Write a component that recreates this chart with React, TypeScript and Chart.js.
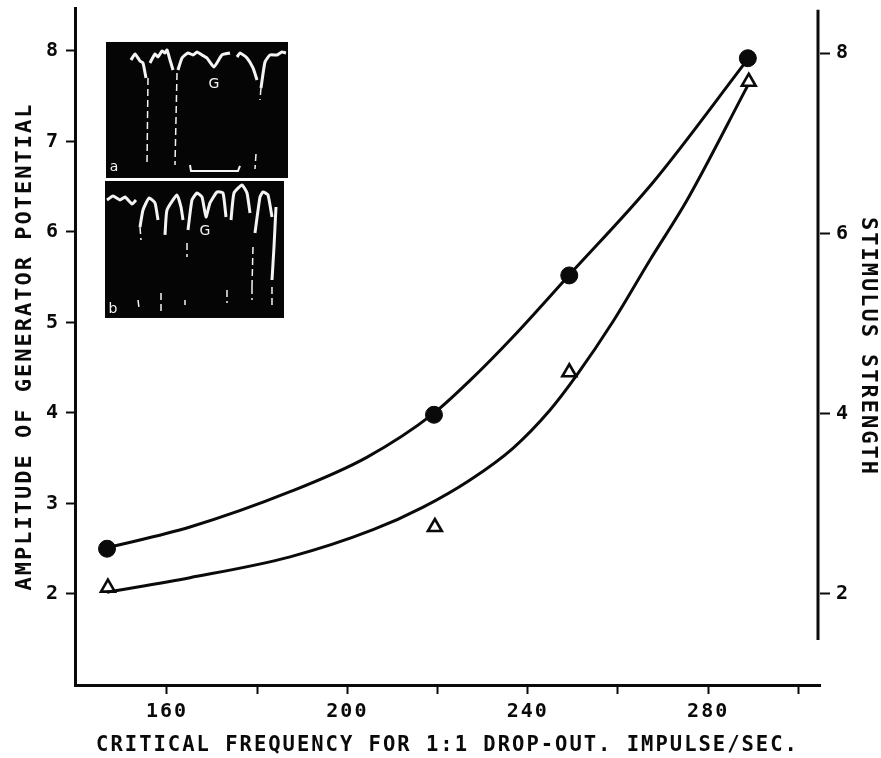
import React, { useEffect, useRef } from "react";
import { Chart, registerables } from "chart.js";

Chart.register(...registerables);

const FONT = '"DejaVu Sans Mono", monospace';
const INK = "#0a0a0a";

const xTicks = [160, 180, 200, 220, 240, 260, 280, 300];
const xLabelled = [160, 200, 240, 280];
const leftTicks = [2, 3, 4, 5, 6, 7, 8];
const rightTicks = [2, 4, 6, 8];

const xLabel = "CRITICAL FREQUENCY FOR 1:1 DROP-OUT. IMPULSE/SEC.";
const leftLabel = "AMPLITUDE OF GENERATOR POTENTIAL";
const rightLabel = "STIMULUS STRENGTH";

const circleX = [146.7, 219.2, 249.2, 288.8];
const circleY = [2.5, 3.98, 5.52, 7.92];
const triangleX = [146.9, 219.4, 249.2, 289];
const triangleY = [2.07, 2.74, 4.45, 7.66];

const upperCurveX = [146.7, 165.1, 187.3, 204.3, 219, 227.2, 236.7, 249.1, 267.8, 288.8];
const upperCurveY = [2.51, 2.74, 3.13, 3.51, 3.99, 4.36, 4.84, 5.52, 6.55, 7.91];
const lowerCurveX = [146.7, 165.1, 187.3, 205.7, 216.8, 227.2, 236.7, 244.9, 250.9, 258.9, 267.1, 275.3, 288.8];
const lowerCurveY = [2.02, 2.18, 2.41, 2.71, 2.96, 3.26, 3.61, 4.03, 4.42, 5.01, 5.69, 6.35, 7.62];

// Inset photographs in image units and mapped to the axes below.
const photoA = [106, 42, 288, 178];
const photoB = [105, 181, 284, 318];
const traceThick: number[][] = [
  [131, 60, 135, 54, 140, 61, 143, 63, 146, 78],
  [150, 63, 155, 54, 158, 57, 162, 51, 165, 53, 167, 50, 170, 60, 173, 70],
  [178, 70, 182, 58, 188, 53, 193, 55, 197, 52, 202, 55, 207, 58, 214, 67, 222, 55, 230, 53],
  [237, 57, 240, 53, 247, 58, 253, 68, 257, 80],
  [261, 88, 265, 62, 270, 55, 277, 55, 282, 52, 286, 53],
  [107, 200, 113, 196, 120, 200, 125, 197, 132, 204, 136, 200],
  [140, 227, 143, 210, 149, 198, 155, 203, 158, 220],
  [165, 235, 167, 210, 177, 195, 181, 207, 183, 220],
  [188, 230, 192, 200, 197, 193, 202, 197, 206, 217, 210, 203, 217, 192, 223, 193, 226, 217],
  [231, 220, 234, 193, 242, 185, 247, 193, 250, 213],
  [255, 233, 260, 197, 263, 192, 268, 195, 272, 217],
  [276, 207, 274, 247, 272, 280],
];
const traceThin: number[][] = [
  [148, 78, 147, 164],
  [177, 73, 175, 165],
  [256, 154, 255, 169],
  [261, 88, 260, 100],
  [140, 227, 141, 240],
  [138, 300, 139, 308],
  [161, 293, 161, 312],
  [185, 300, 185, 305],
  [187, 243, 187, 257],
  [227, 290, 227, 303],
  [252, 287, 252, 300],
  [253, 247, 252, 287],
  [272, 287, 272, 305],
];
const bracket = [190, 165, 191, 171, 238, 171, 240, 166];
const photoNotes = [
  { text: "G", x: 214, y: 84 },
  { text: "a", x: 114, y: 167 },
  { text: "G", x: 205, y: 231 },
  { text: "b", x: 113, y: 309 },
];

const toX = (px: number) => 160 + (px - 167) / 4.51;
const toY = (py: number) => 2 + (594 - py) / 90.5;

const pairs = (a: number[]) => {
  const out: { x: number; y: number }[] = [];
  for (let i = 0; i < a.length; i += 2) out.push({ x: toX(a[i]), y: toY(a[i + 1]) });
  return out;
};
const zip = (xs: number[], ys: number[]) => xs.map((x, i) => ({ x, y: ys[i] }));

const fitBox = (s: any, size: { width?: number; height?: number }) => {
  if (size.width) s.width = size.width;
  if (size.height) s.height = size.height;
  s.paddingTop = 0;
  s.paddingBottom = 0;
  s.paddingLeft = 0;
  s.paddingRight = 0;
};

const photoPlugin = {
  id: "photo",
  beforeDraw(chart: any) {
    chart.ctx.letterSpacing = "2px";
  },
  beforeDatasetsDraw(chart: any) {
    const { ctx, scales } = chart;
    ctx.save();
    ctx.fillStyle = "#050505";
    for (const r of [photoA, photoB]) {
      const x0 = scales.x.getPixelForValue(toX(r[0]));
      const x1 = scales.x.getPixelForValue(toX(r[2]));
      const y0 = scales.y.getPixelForValue(toY(r[1]));
      const y1 = scales.y.getPixelForValue(toY(r[3]));
      ctx.fillRect(x0, y0, x1 - x0, y1 - y0);
    }
    // short right spine
    ctx.strokeStyle = INK;
    ctx.lineWidth = 3;
    ctx.beginPath();
    const sx = scales.y2.left - 2;
    ctx.moveTo(sx, scales.y2.getPixelForValue(8.48));
    ctx.lineTo(sx, scales.y2.getPixelForValue(1.49));
    ctx.stroke();
    ctx.restore();
  },
  afterDatasetsDraw(chart: any) {
    const { ctx, scales } = chart;
    ctx.save();
    ctx.letterSpacing = "0px";
    ctx.fillStyle = "#f2f2f2";
    ctx.font = `14px "DejaVu Sans", sans-serif`;
    ctx.textAlign = "center";
    ctx.textBaseline = "middle";
    for (const n of photoNotes) {
      ctx.fillText(n.text, scales.x.getPixelForValue(toX(n.x)), scales.y.getPixelForValue(toY(n.y)));
    }
    ctx.restore();
  },
};

export default function App() {
  const ref = useRef<HTMLCanvasElement>(null);
  useEffect(() => {
    const white = "#f4f4f4";
    const chart = new Chart(ref.current as HTMLCanvasElement, {
      type: "line",
      data: {
        datasets: [
          ...traceThick.map((t) => ({
            data: pairs(t), borderColor: white, borderWidth: 3, pointRadius: 0, tension: 0.15,
          })),
          ...traceThin.map((t) => ({
            data: pairs(t), borderColor: white, borderWidth: 1.5, borderDash: [7, 4], pointRadius: 0,
          })),
          { data: pairs(bracket), borderColor: white, borderWidth: 2, pointRadius: 0 },
          {
            data: zip(upperCurveX, upperCurveY), borderColor: INK, borderWidth: 3, pointRadius: 0,
            cubicInterpolationMode: "monotone",
          },
          {
            data: zip(lowerCurveX, lowerCurveY), borderColor: INK, borderWidth: 3, pointRadius: 0,
            cubicInterpolationMode: "monotone",
          },
          {
            data: zip(circleX, circleY), showLine: false, pointStyle: "circle", pointRadius: 8.5,
            pointBackgroundColor: INK, pointBorderColor: INK, pointBorderWidth: 1,
          },
          {
            data: zip(triangleX, triangleY), showLine: false, pointStyle: "triangle", pointRadius: 8,
            pointBackgroundColor: "#ffffff", pointBorderColor: INK, pointBorderWidth: 2.6,
          },
        ] as any,
      },
      options: {
        responsive: false,
        animation: false,
        layout: { autoPadding: false, padding: { top: 8, left: 0, right: 0, bottom: 0 } },
        plugins: { legend: { display: false }, tooltip: { enabled: false } },
        scales: {
          x: {
            type: "linear", min: 139.6, max: 304.8,
            afterFit: (s: any) => fitBox(s, { height: 73 }),
            afterBuildTicks: (s: any) => { s.ticks = xTicks.map((value) => ({ value })); },
            grid: { drawOnChartArea: false, tickLength: 9, tickWidth: 2, tickColor: INK },
            border: { color: INK, width: 3 },
            ticks: {
              autoSkip: false, maxRotation: 0, padding: 6, color: INK,
              font: { family: FONT, size: 20, weight: "bold" },
              callback: (v: any) => (xLabelled.includes(v) ? String(v) : ""),
            },
            title: {
              display: true, text: xLabel, color: INK,
              font: { family: FONT, size: 20.5, weight: "bold" }, padding: { top: 6, bottom: 0 },
            },
          },
          y: {
            type: "linear", position: "left", min: 0.994, max: 8.475,
            afterFit: (s: any) => fitBox(s, { width: 75 }),
            afterBuildTicks: (s: any) => { s.ticks = leftTicks.map((value) => ({ value })); },
            grid: { drawOnChartArea: false, tickLength: 9, tickWidth: 2, tickColor: INK },
            border: { color: INK, width: 3 },
            ticks: {
              autoSkip: false, padding: 6, color: INK,
              font: { family: FONT, size: 20, weight: "bold" },
            },
            title: {
              display: true, text: leftLabel, color: INK,
              font: { family: FONT, size: 22, weight: "bold" }, padding: { top: 12, bottom: 0 },
            },
          },
          y2: {
            type: "linear", position: "right", min: 0.99, max: 8.5,
            afterFit: (s: any) => fitBox(s, { width: 61 }),
            afterBuildTicks: (s: any) => { s.ticks = rightTicks.map((value) => ({ value })); },
            grid: { drawOnChartArea: false, tickLength: 10, tickWidth: 2, tickColor: INK },
            border: { display: false },
            ticks: {
              autoSkip: false, padding: 6, color: INK,
              font: { family: FONT, size: 20, weight: "bold" },
            },
            title: {
              display: true, text: rightLabel, color: INK,
              font: { family: FONT, size: 22, weight: "bold" }, padding: { top: 0, bottom: 0 },
            },
          },
        },
      } as any,
      plugins: [photoPlugin] as any,
    });
    return () => chart.destroy();
  }, []);
  return (
    <div style={{ position: "absolute", left: 0, top: 0, width: 881, height: 758, background: "#fff" }}>
      <canvas ref={ref} width={881} height={758} style={{ display: "block" }} />
    </div>
  );
}
